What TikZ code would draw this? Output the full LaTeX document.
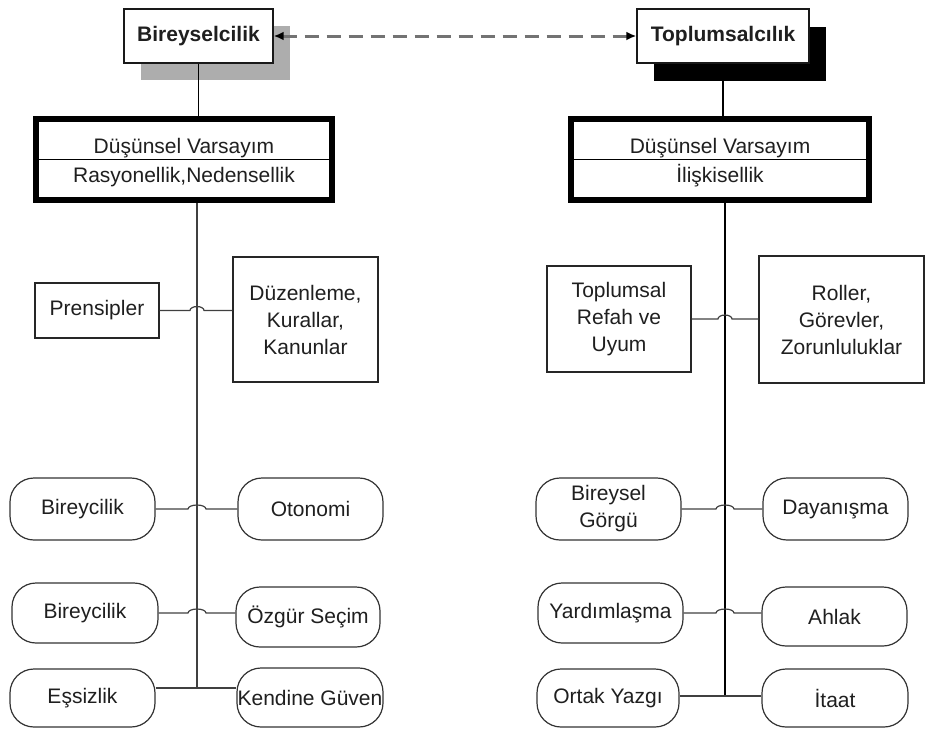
\documentclass[tikz,border=0pt]{standalone}
\usepackage{fontspec}
\setmainfont{Liberation Sans}
\usetikzlibrary{arrows.meta,calc,shadows}
\begin{document}
\begin{tikzpicture}[x=1pt,y=-1pt,
  every node/.style={font=\fontsize{21}{27}\selectfont, text=black!88, align=center, inner sep=0pt},
  titlebox/.style={draw=black!90, line width=1.4pt, fill=white, font=\fontsize{21}{27}\selectfont\bfseries},
  thickbox/.style={draw=black, line width=6pt, fill=white},
  sqbox/.style={draw=black!85, line width=1.3pt, fill=white},
  pill/.style={draw=black!80, line width=1.2pt, fill=white, rounded corners=24pt},
  conn/.style={draw=black!75, line width=1.2pt}
]
\useasboundingbox (0,0) rectangle (926,729);

% spine positions
\coordinate (sL) at (197,203);
\coordinate (sR) at (725,203);
\coordinate (jL) at (197,688);
\coordinate (jR) at (725,696);

% ---------- title boxes with offset shadows ----------
\node[titlebox, minimum width=149pt, minimum height=54pt,
      general shadow={shadow xshift=16.5pt, shadow yshift=-17pt, fill=black!32, draw=none}] (bir) at (198.5,36) {Bireyselcilik};
\node[titlebox, minimum width=172pt, minimum height=54pt,
      general shadow={shadow xshift=17pt, shadow yshift=-18pt, fill=black, draw=none}] (top) at (723,36) {Toplumsalcılık};

\draw[black!55, line width=3pt, dash pattern=on 14pt off 8pt,
      {Latex[color=black,length=10pt,width=9pt]}-{Latex[color=black,length=10pt,width=9pt]}] (bir.east) -- (top.west);

% ---------- assumption boxes ----------
\node[thickbox, minimum width=296pt, minimum height=81pt] (dl) at (184,159.5) {};
\node[thickbox, minimum width=298pt, minimum height=81pt] (dr) at (720,159.5) {};
\draw[line width=1pt] ($(dl.west)+(3pt,0)$) -- ($(dl.east)+(-3pt,0)$);
\draw[line width=1pt] ($(dr.west)+(3pt,0)$) -- ($(dr.east)+(-3pt,0)$);
\node[anchor=base] (dl1) at (184,153) {Düşünsel Varsayım};
\node[anchor=base] (dl2) at (184,182) {Rasyonellik,Nedensellik};
\node[anchor=base] (dr1) at (720,153) {Düşünsel Varsayım};
\node[anchor=base] (dr2) at (720,182) {İlişkisellik};

\draw[conn, draw=black] (bir.south) -- (bir.south |- dl.north);
\draw[conn, draw=black] (top.south) -- (top.south |- dr.north);

% ---------- left column ----------
\node[sqbox, minimum width=124pt, minimum height=55pt] (pr) at (97,310.5) {Prensipler};
\node[sqbox, minimum width=145pt, minimum height=125pt] (dz) at (305.5,319.5) {Düzenleme,\\Kurallar,\\Kanunlar};

\node[pill, minimum width=145pt, minimum height=62pt] (b1) at (82.5,509) {Bireycilik};
\node[pill, minimum width=145pt, minimum height=62pt] (ot) at (310.5,509) {Otonomi};
\node[pill, minimum width=146pt, minimum height=60pt] (b2) at (85,613) {Bireycilik};
\node[pill, minimum width=144pt, minimum height=60pt] (oz) at (308,617) {Özgür Seçim};
\node[pill, minimum width=145pt, minimum height=58pt] (es) at (82.5,698) {Eşsizlik};
\node[pill, minimum width=146pt, minimum height=59pt] (kg) at (310,697.5) {Kendine Güven};

\draw[conn] (sL) -- (jL);
\draw[conn] (pr.east) -- ($(sL |- pr.east)+(-7pt,0)$) arc[start angle=180,end angle=0,x radius=7pt,y radius=4pt] -- (dz.west |- pr.east);
\draw[conn] (b1.east) -- ($(sL |- b1.east)+(-9pt,0)$) arc[start angle=180,end angle=0,x radius=9pt,y radius=4pt] -- (ot.west |- b1.east);
\draw[conn] (b2.east) -- ($(sL |- b2.east)+(-9pt,0)$) arc[start angle=180,end angle=0,x radius=9pt,y radius=4pt] -- (oz.west |- b2.east);
\draw[conn] (es.east |- jL) -- (kg.west |- jL);

% ---------- right column ----------
\node[sqbox, minimum width=144pt, minimum height=106pt] (tr) at (619,319) {Toplumsal\\Refah ve\\Uyum};
\node[sqbox, minimum width=165pt, minimum height=127pt] (ro) at (841.5,319.5) {Roller,\\Görevler,\\Zorunluluklar};

\node[pill, minimum width=145pt, minimum height=62pt] (bg) at (608.5,509) {Bireysel\\Görgü};
\node[pill, minimum width=145pt, minimum height=62pt] (da) at (835.5,509) {Dayanışma};
\node[pill, minimum width=145pt, minimum height=60pt] (ya) at (610.5,613) {Yardımlaşma};
\node[pill, minimum width=145pt, minimum height=59pt] (ah) at (834.5,616.5) {Ahlak};
\node[pill, minimum width=142pt, minimum height=58pt] (oy) at (608,698) {Ortak Yazgı};
\node[pill, minimum width=146pt, minimum height=58pt] (it) at (835,698) {İtaat};

\draw[conn, draw=black] (sR) -- (jR);
\draw[conn] (tr.east) -- ($(sR |- tr.east)+(-7pt,0)$) arc[start angle=180,end angle=0,x radius=7pt,y radius=4pt] -- (ro.west |- tr.east);
\draw[conn] (bg.east) -- ($(sR |- bg.east)+(-9pt,0)$) arc[start angle=180,end angle=0,x radius=9pt,y radius=4pt] -- (da.west |- bg.east);
\draw[conn] (ya.east) -- ($(sR |- ya.east)+(-9pt,0)$) arc[start angle=180,end angle=0,x radius=9pt,y radius=4pt] -- (ah.west |- ya.east);
\draw[conn] (oy.east |- jR) -- (it.west |- jR);
\end{tikzpicture}
\end{document}
